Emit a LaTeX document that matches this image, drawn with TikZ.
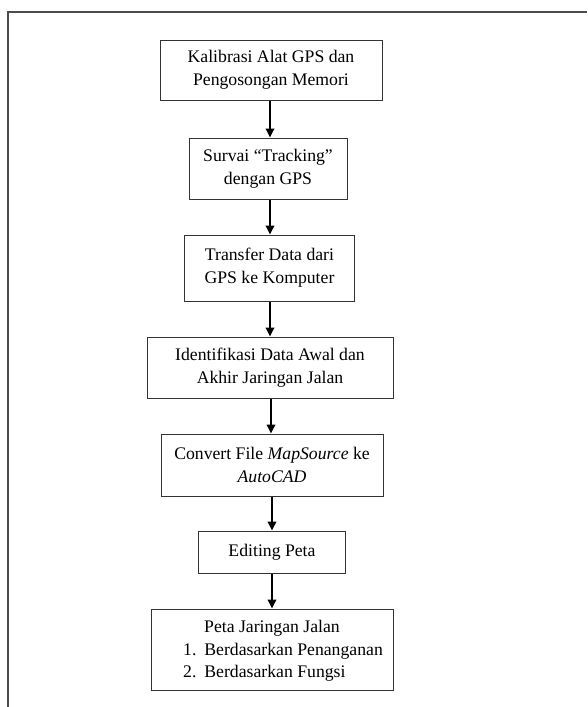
\documentclass[tikz,border=0pt]{standalone}
\usepackage{fontspec}
\setmainfont{Liberation Serif}
\usetikzlibrary{arrows.meta}
\begin{document}
\begin{tikzpicture}[x=1pt,y=-1pt,
  box/.style={draw=black!80, line width=1pt, align=center, inner sep=0pt,
    font=\fontsize{17.7}{23}\selectfont},
  flow/.style={line width=1.8pt, -{Triangle[length=9pt,width=8.5pt]}},
  txt/.style={inner sep=0pt, font=\fontsize{17.7}{23}\selectfont}]
\useasboundingbox (0,0) rectangle (587,707);
\fill[white] (0,0) rectangle (587,707);
\draw[line width=1.4pt, black!70] (8,707) -- (8,12) -- (587,12);

\node[box, minimum width=222, minimum height=60] (b1) at (271,70)
  {Kalibrasi Alat GPS dan\\Pengosongan Memori};
\node[box, minimum width=158, minimum height=61] (b2) at (268,168.5)
  {Survai “Tracking”\\dengan GPS};
\node[box, minimum width=170, minimum height=66] (b3) at (269.5,268)
  {Transfer Data dari\\GPS ke Komputer};
\node[box, minimum width=246, minimum height=61] (b4) at (270,367.5)
  {Identifikasi Data Awal dan\\Akhir Jaringan Jalan};
\node[box, minimum width=222, minimum height=62] (b5) at (272,465)
  {Convert File \textit{MapSource} ke\\\textit{AutoCAD}};
\node[box, minimum width=147, minimum height=42] (b6) at (272,552)
  {Editing Peta};
\node[box, minimum width=242, minimum height=81] (b7) at (272,649.5) {};
\node[txt] (t1) at (272,628) {Peta Jaringan Jalan};
\node[txt, anchor=west] (t2) at (183,651) {1.\hspace{0.45em}Berdasarkan Penanganan};
\node[txt, anchor=west] (t3) at (183,673) {2.\hspace{0.45em}Berdasarkan Fungsi};

\draw[flow] (b1.south -| 270,0) -- (b2.north -| 270,0);
\draw[flow] (b2.south -| 270,0) -- (b3.north -| 270,0);
\draw[flow] (b3.south -| 270,0) -- (b4.north -| 270,0);
\draw[flow] (b4.south -| 271,0) -- (b5.north -| 271,0);
\draw[flow] (b5.south -| 272,0) -- (b6.north -| 272,0);
\draw[flow] (b6.south -| 272,0) -- (b7.north -| 272,0);
\end{tikzpicture}
\end{document}
